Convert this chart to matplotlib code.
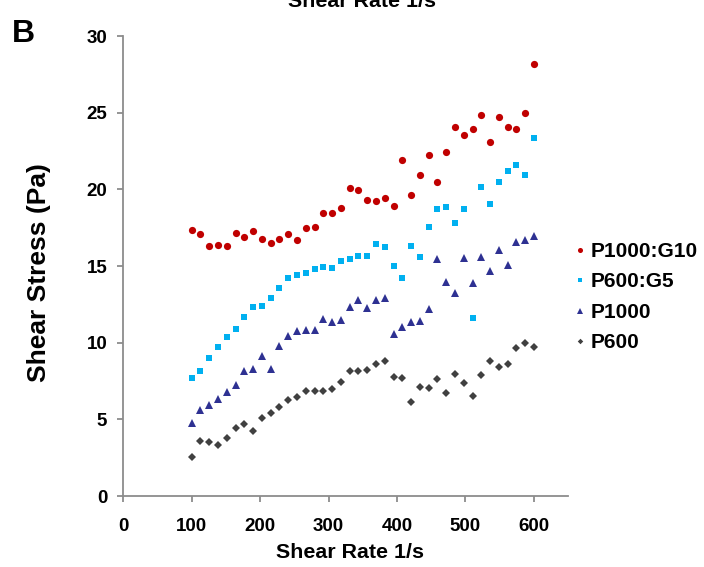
import matplotlib

matplotlib.use("Agg")
import matplotlib.pyplot as plt

plt.rcParams["font.family"] = ["Liberation Sans", "DejaVu Sans"]
plt.rcParams["font.weight"] = "bold"

shear_rate = [100, 112.8, 125.6, 138.5, 151.3, 164.1, 176.9, 189.7, 202.6, 215.4,
              228.2, 241.0, 253.8, 266.7, 279.5, 292.3, 305.1, 317.9, 330.8, 343.6,
              356.4, 369.2, 382.1, 394.9, 407.7, 420.5, 433.3, 446.2, 459.0, 471.8,
              484.6, 497.4, 510.3, 523.1, 535.9, 548.7, 561.5, 574.4, 587.2, 600]

p1000_g10 = [17.35, 17.09, 16.29, 16.39, 16.33, 17.13, 16.89, 17.26, 16.76, 16.50,
             16.79, 17.07, 16.72, 17.46, 17.57, 18.48, 18.46, 18.81, 20.11, 19.96,
             19.33, 19.22, 19.42, 18.92, 21.90, 19.61, 20.92, 22.22, 20.46, 22.44,
             24.05, 23.57, 23.94, 24.83, 23.09, 24.70, 24.09, 23.94, 25.00, 28.16]

p600_g5 = [7.72, 8.13, 8.98, 9.72, 10.39, 10.89, 11.70, 12.31, 12.39, 12.92,
           13.59, 14.24, 14.44, 14.57, 14.81, 14.92, 14.87, 15.31, 15.46, 15.68,
           15.68, 16.44, 16.26, 15.00, 14.20, 16.29, 15.61, 17.55, 18.72, 18.87,
           17.79, 18.72, 11.61, 20.18, 19.05, 20.48, 21.18, 21.59, 20.96, 23.33]

p1000 = [4.74, 5.61, 5.91, 6.35, 6.76, 7.24, 8.13, 8.26, 9.13, 8.26,
         9.76, 10.46, 10.74, 10.81, 10.83, 11.57, 11.35, 11.48, 12.31, 12.79,
         12.26, 12.77, 12.90, 10.57, 11.02, 11.35, 11.44, 12.18, 15.48, 13.96,
         13.26, 15.55, 13.87, 15.59, 14.68, 16.07, 15.05, 16.55, 16.68, 16.96]

p600 = [2.54, 3.61, 3.50, 3.35, 3.78, 4.46, 4.67, 4.26, 5.11, 5.44,
        5.83, 6.28, 6.48, 6.83, 6.87, 6.87, 6.96, 7.44, 8.18, 8.18,
        8.22, 8.63, 8.81, 7.78, 7.67, 6.11, 7.09, 7.07, 7.65, 6.74,
        7.98, 7.39, 6.54, 7.91, 8.81, 8.39, 8.63, 9.63, 9.98, 9.72]

series = [
    ("P1000:G10", p1000_g10, "o", "#C00000", 5.2),
    ("P600:G5", p600_g5, "s", "#00B0F0", 5.0),
    ("P1000", p1000, "^", "#2E3192", 5.2),
    ("P600", p600, "D", "#404040", 4.0),
]

fig = plt.figure(figsize=(7.04, 5.67), dpi=100)
ax = fig.add_axes([0.175, 0.1252, 0.632, 0.8113])

for name, vals, mk, col, ms in series:
    ax.plot(shear_rate, vals, linestyle="none", marker=mk, color=col,
            markersize=ms, markeredgewidth=0, label=name)

ax.set_xlim(0, 650)
ax.set_ylim(0, 30)
ax.set_xticks(range(0, 700, 100))
ax.set_yticks(range(0, 35, 5))
for s in ("top", "right"):
    ax.spines[s].set_visible(False)
for s in ("left", "bottom"):
    ax.spines[s].set_color("#8c8c8c")
    ax.spines[s].set_linewidth(1.3)
ax.tick_params(direction="out", length=4.5, width=1.3, color="#8c8c8c",
               labelsize=13.5)
ax.tick_params(axis="x", pad=11)
ax.tick_params(axis="y", pad=7)
for lab in ax.get_xticklabels() + ax.get_yticklabels():
    lab.set_fontweight("bold")

ax.set_xlabel("Shear Rate 1/s", fontsize=15.4, fontweight="bold")
ax.xaxis.set_label_coords(0.509, -0.102)
ax.set_ylabel("Shear Stress (Pa)", fontsize=19, fontweight="bold")
ax.yaxis.set_label_coords(-0.163, 0.485)

# legend sits just right of the plot, Excel style
ax.legend(loc="center left", bbox_to_anchor=(0.804, 0.476), bbox_transform=fig.transFigure,
          frameon=False, markerscale=0.7, handlelength=0.5, borderaxespad=0,
          handletextpad=0.3, labelspacing=0.55, prop={"weight": "bold", "size": 15})

fig.text(0.034, 0.926, "B", fontsize=23, fontweight="bold", ha="center", va="baseline")
# axis title of the panel above, clipped by the top edge as in the source
fig.text(0.514, 0.9877, "Shear Rate 1/s", fontsize=15.4, fontweight="bold",
         ha="center", va="baseline")

fig.savefig("out.png", dpi=100)
